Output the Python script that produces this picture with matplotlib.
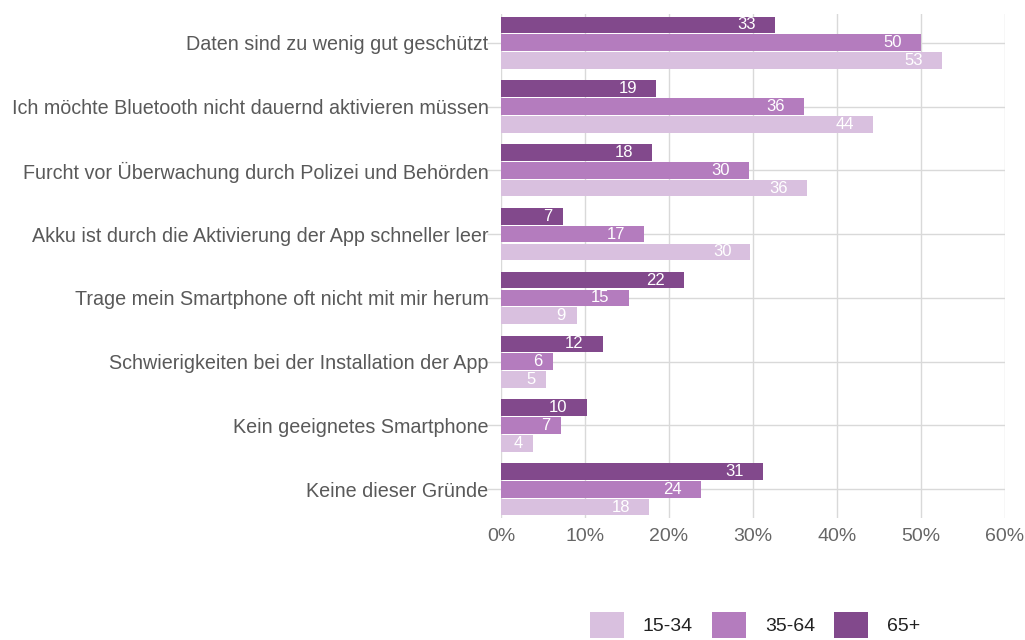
import numpy as np
import matplotlib.pyplot as plt
from matplotlib.patches import Patch

plt.rcParams["font.family"] = ["Liberation Sans", "DejaVu Sans"]

# ── data ─────────────────────────────────────────────
categories = [
    "Daten sind zu wenig gut geschützt",
    "Ich möchte Bluetooth nicht dauernd aktivieren müssen",
    "Furcht vor Überwachung durch Polizei und Behörden",
    "Akku ist durch die Aktivierung der App schneller leer",
    "Trage mein Smartphone oft nicht mit mir herum",
    "Schwierigkeiten bei der Installation der App",
    "Kein geeignetes Smartphone",
    "Keine dieser Gründe",
]
groups = ["15-34", "35-64", "65+"]
age_15_34 = [52.5, 44.3, 36.4, 29.7, 9.0, 5.4, 3.8, 17.6]
age_35_64 = [50.0, 36.1, 29.5, 17.0, 15.2, 6.2, 7.1, 23.8]
age_65 = [32.6, 18.5, 17.95, 7.4, 21.8, 12.1, 10.2, 31.2]
labels_15_34 = [53, 44, 36, 30, 9, 5, 4, 18]
labels_35_64 = [50, 36, 30, 17, 15, 6, 7, 24]
labels_65 = [33, 19, 18, 7, 22, 12, 10, 31]
x_ticks = [0, 10, 20, 30, 40, 50, 60]

colors = ["#d9c0df", "#b47cbe", "#82498c"]
series = [age_15_34, age_35_64, age_65]
series_labels = [labels_15_34, labels_35_64, labels_65]
offsets = [0.28, 0.0, -0.28]

fig = plt.figure(figsize=(10.25, 6.4), dpi=100)
ax = fig.add_axes([501 / 1025, 1 - 518 / 640, 504 / 1025, 504 / 640])

y = np.arange(len(categories))
for vals, labs, col, off in zip(series, series_labels, colors, offsets):
    ax.barh(y + off, vals, height=0.26, color=col, zorder=2)
    for yi, v, lab in zip(y, vals, labs):
        s = str(lab)
        ax.annotate(
            s,
            xy=(v, yi + off),
            xytext=(-(2 + 8.5 * len(s)), 0),
            textcoords="offset pixels",
            ha="right",
            va="center",
            color="white",
            fontsize=12,
            zorder=3,
        )

ax.set_xlim(0, 60)
ax.set_ylim(7.45, -0.45)
ax.set_xticks(x_ticks)
ax.set_xticklabels([f"{t}%" for t in x_ticks])
ax.set_yticks(y)
ax.set_yticklabels(categories)
ax.tick_params(axis="y", length=10, color="#d9d9d9", width=1, pad=-1,
               labelsize=14.2, labelcolor="#595959")
ax.tick_params(axis="x", length=0, pad=7, labelsize=14, labelcolor="#666666")
ax.grid(True, color="#d9d9d9", linewidth=1, zorder=0)
ax.set_axisbelow(True)
for sp in ax.spines.values():
    sp.set_visible(False)

handles = [Patch(facecolor=c, edgecolor="none") for c in colors]
fig.legend(
    handles,
    groups,
    loc="upper left",
    bbox_to_anchor=(572 / 1025, 1 - 594 / 640),
    ncol=3,
    frameon=False,
    fontsize=14,
    handlelength=1.75,
    handleheight=1.75,
    handletextpad=1.0,
    columnspacing=0.95,
    labelcolor="#222222",
)

fig.savefig("out.png", dpi=100)
